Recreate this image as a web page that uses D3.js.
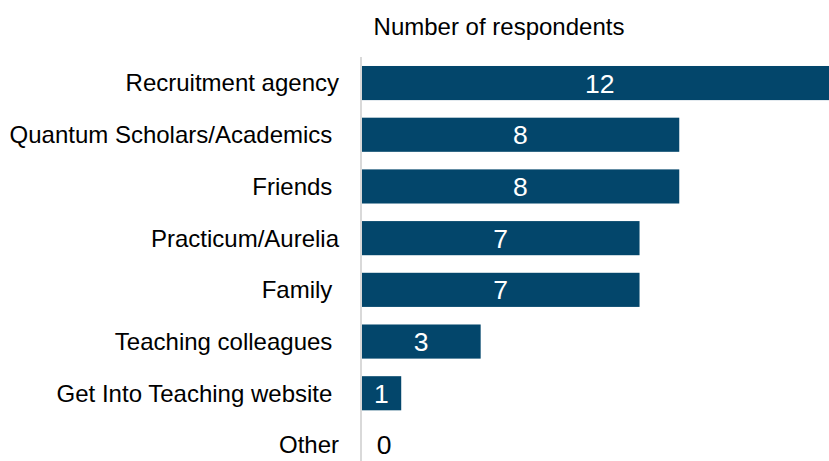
<!DOCTYPE html>
<html>
<head>
<meta charset="utf-8">
<script src="https://cdn.jsdelivr.net/npm/d3@7"></script>
<style>
  html, body { margin: 0; padding: 0; background: #ffffff; }
  svg { display: block; font-family: "Liberation Sans", Arial, sans-serif; }
</style>
</head>
<body>
<svg id="chart" width="829" height="461"></svg>
<script>
const categories = [
  "Recruitment agency",
  "Quantum Scholars/Academics ",
  "Friends ",
  "Practicum/Aurelia",
  "Family ",
  "Teaching colleagues ",
  "Get Into Teaching website ",
  "Other"
];
const values = [12, 8, 8, 7, 7, 3, 1, 0];
const axisTitle = "Number of respondents";

const svg = d3.select("#chart");
const fontSize = 24;
const valueFontSize = 26.5;
const barColor = "#03466b";

const x = d3.scaleLinear().domain([0, 12]).range([361.5, 361.5 + 12 * 39.72]);
const y = d3.scaleBand().domain(categories).range([57.2, 57.2 + 8 * 51.7])
  .paddingInner(0.34).paddingOuter(0.17);

// title
svg.append("text")
  .attr("x", 499)
  .attr("y", 35)
  .attr("text-anchor", "middle")
  .style("font-size", fontSize + "px")
  .attr("fill", "#000")
  .text(axisTitle);

// bars
svg.append("g").selectAll("rect")
  .data(values)
  .join("rect")
  .attr("x", x(0))
  .attr("y", (d, i) => y(categories[i]))
  .attr("width", d => x(d) - x(0))
  .attr("height", y.bandwidth())
  .attr("fill", barColor);

// axis line
svg.append("line")
  .attr("x1", 361).attr("x2", 361)
  .attr("y1", 57).attr("y2", 461)
  .attr("stroke", "#d9d9d9")
  .attr("stroke-width", 2);

// category labels
const yAxis = d3.axisLeft(y).tickSize(0).tickPadding(0);
const gy = svg.append("g").attr("transform", "translate(339,0)").call(yAxis);
gy.select(".domain").remove();
gy.selectAll("text")
  .style("font-size", fontSize + "px")
  .style("font-family", '"Liberation Sans", Arial, sans-serif')
  .attr("fill", "#000")
  .attr("dy", "0.35em")
  .style("white-space", "pre")
  .attr("xml:space", "preserve");

// value labels
svg.append("g").selectAll("text")
  .data(values)
  .join("text")
  .attr("x", d => d > 0 ? (x(0) + x(d)) / 2 : x(0) + 22.5)
  .attr("y", (d, i) => y(categories[i]) + y.bandwidth() / 2)
  .attr("dy", "0.36em")
  .attr("text-anchor", "middle")
  .style("font-size", valueFontSize + "px")
  .attr("fill", d => d > 0 ? "#ffffff" : "#000000")
  .text(d => d);
</script>
</body>
</html>
